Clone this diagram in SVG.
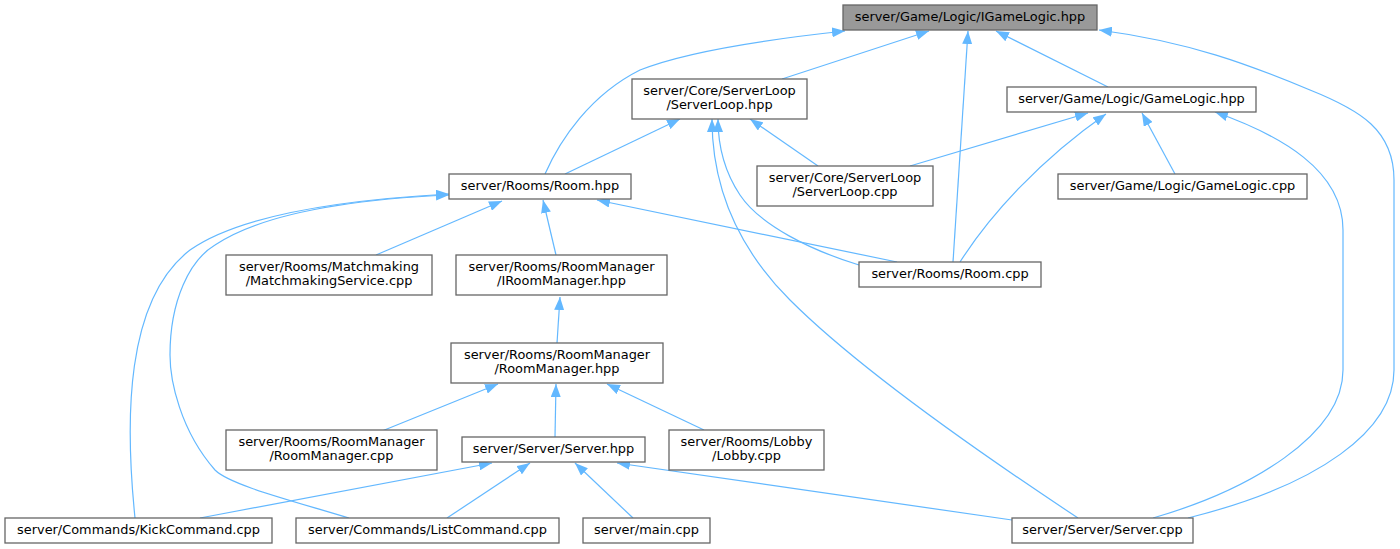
<svg xmlns="http://www.w3.org/2000/svg" width="1400" height="549" viewBox="0 0 1400 549">
<style>
.n rect{fill:#ffffff;stroke:#666666;stroke-width:1.3}
.n.root rect{fill:#999999}
.n text{font-family:"DejaVu Sans","Liberation Sans",sans-serif;font-size:12.9px;fill:#000000;text-anchor:middle}
.e path{fill:none;stroke:#63b8ff;stroke-width:1.2;marker-end:url(#ah)}
</style>
<defs>
<marker id="ah" viewBox="0 0 13 10" refX="13" refY="5" markerWidth="13" markerHeight="10" markerUnits="userSpaceOnUse" orient="auto">
<path d="M0,0 L13,5 L0,10 z" fill="#63b8ff"/>
</marker>
</defs>
<rect x="0" y="0" width="1400" height="549" fill="#ffffff"/>
<g id="connectors" class="e">
<path d="M782,79 L929,31"/>
<path d="M1108,87 L996,31"/>
<path d="M545,174 C560,140 590,95 640,70 C690,50 780,38 845,31"/>
<path d="M953,262 L968,31"/>
<path d="M1188,518 C1320,485 1394,430 1394,370 L1394,180 C1394,130 1360,110 1310,90 C1250,65 1190,42 1099,30"/>
<path d="M565,174 L680,119"/>
<path d="M818,166 L750,119"/>
<path d="M859,265 C810,250 760,225 740,195 C722,168 718,140 718,119"/>
<path d="M1078,518 C960,440 850,360 790,300 C740,250 712,190 712,119"/>
<path d="M910,166 L1088,113"/>
<path d="M960,262 C990,215 1040,160 1106,114"/>
<path d="M1175,174 L1142,113"/>
<path d="M1153,518 C1250,490 1343,435 1343,370 L1343,230 C1343,170 1280,135 1215,112"/>
<path d="M376,255 L502,201"/>
<path d="M556,255 L543,200"/>
<path d="M897,262 L597,200"/>
<path d="M135,518 C125,420 125,300 190,250 C240,215 340,200 449,194"/>
<path d="M349,518 C290,500 230,485 215,470 C180,430 170,380 170,355 C170,300 190,260 215,245 C260,215 340,200 449,195"/>
<path d="M557,343 L560,297"/>
<path d="M382,431 L498,384"/>
<path d="M555,437 L556,384"/>
<path d="M704,430 L607,384"/>
<path d="M200,518 L492,463"/>
<path d="M447,518 L530,463"/>
<path d="M633,518 L575,463"/>
<path d="M1012,520 L617,463"/>
</g>
<g id="n_igamelogic" class="n root"><rect x="843" y="5" width="254" height="25"/><text x="970" y="21">server/Game/Logic/IGameLogic.hpp</text></g>
<g id="n_serverloop_hpp" class="n"><rect x="632" y="79" width="175" height="40"/><text x="719.5" y="95">server/Core/ServerLoop</text><text x="719.5" y="109">/ServerLoop.hpp</text></g>
<g id="n_gamelogic_hpp" class="n"><rect x="1007" y="87" width="249" height="25"/><text x="1131.5" y="103">server/Game/Logic/GameLogic.hpp</text></g>
<g id="n_room_hpp" class="n"><rect x="449" y="174" width="182" height="25"/><text x="540" y="190">server/Rooms/Room.hpp</text></g>
<g id="n_serverloop_cpp" class="n"><rect x="757" y="166" width="176" height="40"/><text x="845" y="182">server/Core/ServerLoop</text><text x="845" y="196">/ServerLoop.cpp</text></g>
<g id="n_gamelogic_cpp" class="n"><rect x="1058" y="174" width="249" height="25"/><text x="1182.5" y="190">server/Game/Logic/GameLogic.cpp</text></g>
<g id="n_matchmaking" class="n"><rect x="226" y="255" width="206" height="40"/><text x="329" y="271">server/Rooms/Matchmaking</text><text x="329" y="285">/MatchmakingService.cpp</text></g>
<g id="n_iroommanager" class="n"><rect x="456" y="255" width="211" height="40"/><text x="561.5" y="271">server/Rooms/RoomManager</text><text x="561.5" y="285">/IRoomManager.hpp</text></g>
<g id="n_room_cpp" class="n"><rect x="859" y="262" width="182" height="25"/><text x="950" y="278">server/Rooms/Room.cpp</text></g>
<g id="n_roommanager_hpp" class="n"><rect x="451" y="343" width="212" height="40"/><text x="557" y="359">server/Rooms/RoomManager</text><text x="557" y="373">/RoomManager.hpp</text></g>
<g id="n_roommanager_cpp" class="n"><rect x="226" y="430" width="211" height="40"/><text x="331.5" y="446">server/Rooms/RoomManager</text><text x="331.5" y="460">/RoomManager.cpp</text></g>
<g id="n_server_hpp" class="n"><rect x="462" y="437" width="183" height="25"/><text x="553.5" y="453">server/Server/Server.hpp</text></g>
<g id="n_lobby" class="n"><rect x="669" y="430" width="155" height="40"/><text x="746.5" y="446">server/Rooms/Lobby</text><text x="746.5" y="460">/Lobby.cpp</text></g>
<g id="n_kick" class="n"><rect x="5" y="518" width="267" height="25"/><text x="138.5" y="534">server/Commands/KickCommand.cpp</text></g>
<g id="n_list" class="n"><rect x="296" y="518" width="263" height="25"/><text x="427.5" y="534">server/Commands/ListCommand.cpp</text></g>
<g id="n_main" class="n"><rect x="583" y="518" width="127" height="25"/><text x="646.5" y="534">server/main.cpp</text></g>
<g id="n_server_cpp" class="n"><rect x="1012" y="518" width="181" height="25"/><text x="1102.5" y="534">server/Server/Server.cpp</text></g>
</svg>
